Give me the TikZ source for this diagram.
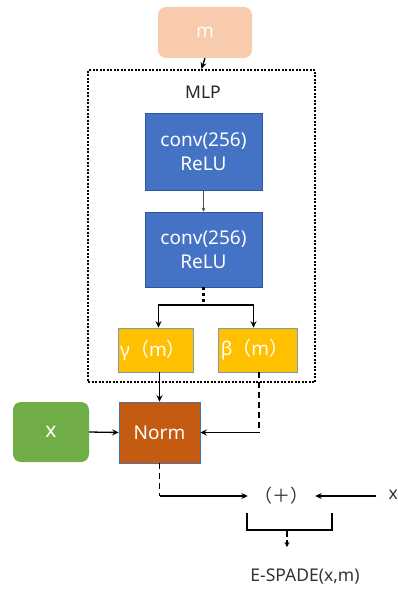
\documentclass[tikz,border=0pt]{standalone}
\usepackage{fontspec}
\setmainfont{Noto Sans}
\newfontfamily\cjk{Noto Sans CJK SC}
\usetikzlibrary{arrows.meta}
\definecolor{peach}{HTML}{F8CBAD}
\definecolor{convblue}{HTML}{4472C4}
\definecolor{convedge}{HTML}{2F5597}
\definecolor{gold}{HTML}{FFC000}
\definecolor{goldedge}{HTML}{8497B0}
\definecolor{rust}{HTML}{C55A11}
\definecolor{rustedge}{HTML}{4F6FB0}
\definecolor{leaf}{HTML}{70AD47}
\definecolor{ink}{HTML}{333333}
\tikzset{
  boxtext/.style={font=\fontsize{19}{24}\selectfont, text=white, align=center, inner sep=0pt},
  convbox/.style={boxtext, fill=convblue, draw=convedge, line width=0.6pt, minimum width=117pt},
  paramsbox/.style={boxtext, fill=gold, draw=goldedge, line width=0.6pt, minimum height=44pt},
  roundbox/.style={boxtext, rounded corners=8pt},
  link/.style={line width=1.3pt, draw=black, -{Stealth[length=6.5pt,width=6pt]}},
  plainlink/.style={line width=1.3pt, draw=black},
  dashlink/.style={line width=1.3pt, draw=black, dash pattern=on 6pt off 4pt},
  mlpframe/.style={draw=black, line width=2.2pt, dash pattern=on 2pt off 1.5pt, inner sep=0pt},
  dotlink/.style={line width=2.8pt, draw=black, dash pattern=on 3pt off 3pt},
  label/.style={font=\fontsize{17.5}{22}\selectfont, text=ink, inner sep=0pt}
}
\begin{document}
\begin{tikzpicture}[x=1pt,y=-1pt]
\useasboundingbox (0,0) rectangle (398,590);

% input mask
\node[roundbox, fill=peach, text=white!96!peach, minimum width=94pt, minimum height=51pt] (m) at (205,32.5) {m};

% MLP frame and its label
\node[mlpframe, minimum width=227pt, minimum height=312pt] (mlp) at (201.5,226) {};
\node[label, text=black!85] (mlplabel) at (203,92) {MLP};

% convolution stack
\node[convbox, minimum height=77pt] (conv1) at (203.5,151.5) {conv(256)\\ReLU};
\node[convbox, minimum height=75pt] (conv2) at (203.5,249.5) {conv(256)\\ReLU};

% modulation parameters
\node[paramsbox, minimum width=75pt] (gamma) at (155.5,350) {\hspace*{-5pt}γ{\cjk（}m{\cjk）}};
\node[paramsbox, minimum width=79pt] (beta) at (257.5,350) {\hspace*{-6pt}β{\cjk（}m{\cjk）}};

% normalisation and feature input
\node[boxtext, fill=rust, draw=rustedge, line width=0.6pt, minimum width=81pt, minimum height=61pt] (norm) at (159.5,432.5) {Norm};
\node[roundbox, font=\fontsize{21}{24}\selectfont, fill=leaf, minimum width=76pt, minimum height=60pt] (xin) at (51,432) {x};

% sum and output
\node[label, font=\fontsize{18}{22}\selectfont\cjk, minimum width=67pt] (plus) at (281.5,496) {（＋）};
\node[label, anchor=east] (xr) at (398,495) {x};
\node[label] (out) at (305,577) {E-SPADE(x,m)};

\coordinate (split) at (203.5,305);
\coordinate (bl) at (247,513);
\coordinate (br) at (332,513);
\coordinate (bm) at (287,530);
\coordinate (tip) at (287,547);

% connectors
\draw[link] (m.south) -- (mlp.north);
\draw[line width=0.6pt, draw=black!70, -{Stealth[length=4pt,width=4pt]}] (conv1.south) -- (conv2.north);
\draw[dotlink] (conv2.south) -- (split);
\draw[link] (split) -| ([xshift=3pt]gamma.north);
\draw[link] (split) -| ([xshift=-4pt]beta.north);
\draw[link] ([xshift=4pt]gamma.south) -- ([xshift=4pt]gamma.south |- norm.north);
\draw[dashlink] ([xshift=1.5pt]beta.south) -- ([xshift=1.5pt]beta.south |- norm.east);
\draw[link] ([xshift=1.5pt]beta.south |- norm.east) -- (norm.east);
\draw[link] (xin.east) -- (norm.west);
\draw[dashlink] (norm.south) -- (norm.south |- plus.west);
\draw[link] (norm.south |- plus.west) -- (plus.west);
\draw[link] ([xshift=-12pt]xr.west |- plus.east) -- (plus.east);
\draw[plainlink] (bl) |- (bm) -| (br);
\draw[line width=1.3pt, dash pattern=on 7pt off 3pt, -{Stealth[length=5pt,width=5pt]}] (bm) -- (tip);
\end{tikzpicture}
\end{document}
